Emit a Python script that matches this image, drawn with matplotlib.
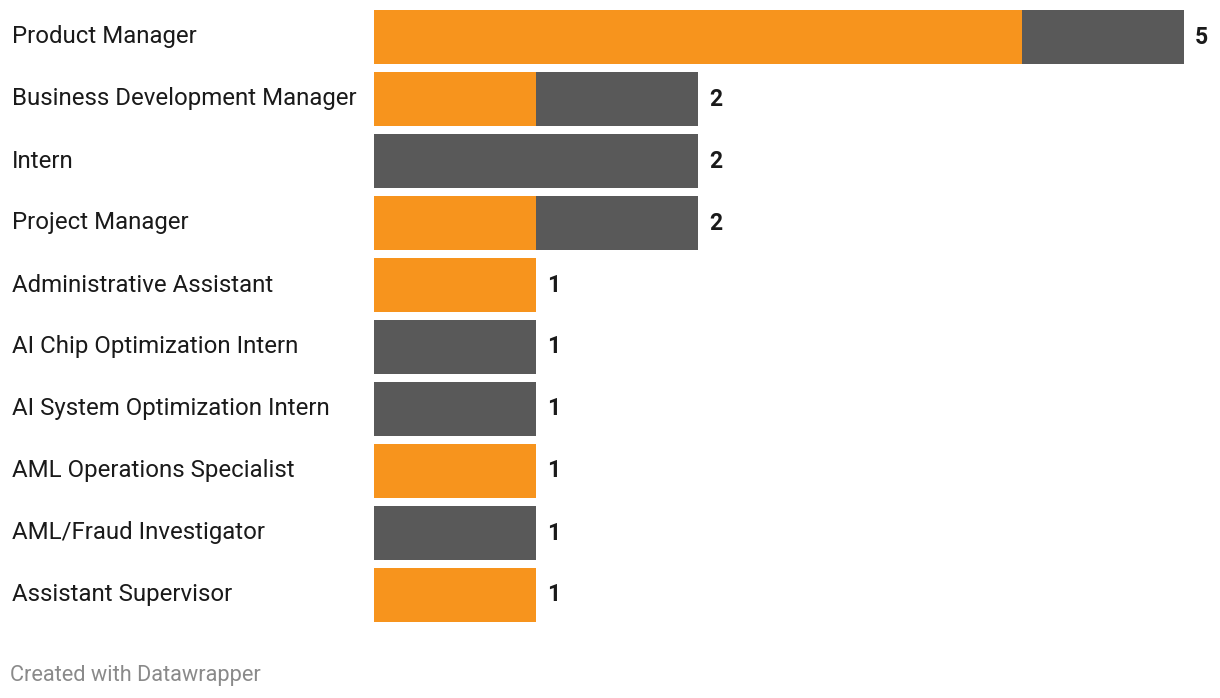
import matplotlib.pyplot as plt
import matplotlib.transforms as mtransforms

plt.rcParams['font.family'] = ['Roboto', 'DejaVu Sans']

#-------------------------------------------------------------------------------
# Data
#-------------------------------------------------------------------------------
titles = ['Product Manager', 'Business Development Manager', 'Intern',
          'Project Manager', 'Administrative Assistant', 'AI Chip Optimization Intern',
          'AI System Optimization Intern', 'AML Operations Specialist',
          'AML/Fraud Investigator', 'Assistant Supervisor']
orange_vals = [4, 1, 0, 1, 1, 0, 0, 1, 0, 1]
grey_vals   = [1, 1, 2, 1, 0, 1, 1, 0, 1, 0]

c_orange = '#f7941d'
c_grey   = '#595959'

#-------------------------------------------------------------------------------
# Figure
#-------------------------------------------------------------------------------
W, H = 1220, 698
fig = plt.figure(figsize=(W/100, H/100), dpi=100)
x0, unit = 374, 162          # bar start and px per unit
ax = fig.add_axes([x0/W, 0, (W-x0)/W, 1])
ax.set_xlim(0, (W-x0)/unit)
row0, pitch = 37, 62
ax.set_ylim((H-row0)/pitch, -row0/pitch)
ax.axis('off')

ypos = list(range(len(titles)))
bh = 54/62
ax.barh(ypos, orange_vals, height=bh, color=c_orange, linewidth=0)
ax.barh(ypos, grey_vals, left=orange_vals, height=bh, color=c_grey, linewidth=0)

lab_tr = mtransforms.blended_transform_factory(fig.transFigure, ax.transData)
off = mtransforms.offset_copy(ax.transData, fig=fig, x=11, y=0, units='dots')
for i, (t, o, g) in enumerate(zip(titles, orange_vals, grey_vals)):
    ax.text(12/W, i, t, transform=lab_tr, ha='left', va='center',
            fontsize=17.3, color='#1a1a1a')
    ax.text(o+g, i, f'{o+g}', transform=off, ha='left', va='center',
            fontsize=16.5, fontweight='bold', color='#1a1a1a')

fig.text(10/W, 1-675/H, 'Created with Datawrapper', ha='left', va='center',
         fontsize=15.7, color='#8a8a8a')

fig.savefig('out.png', dpi=100)
